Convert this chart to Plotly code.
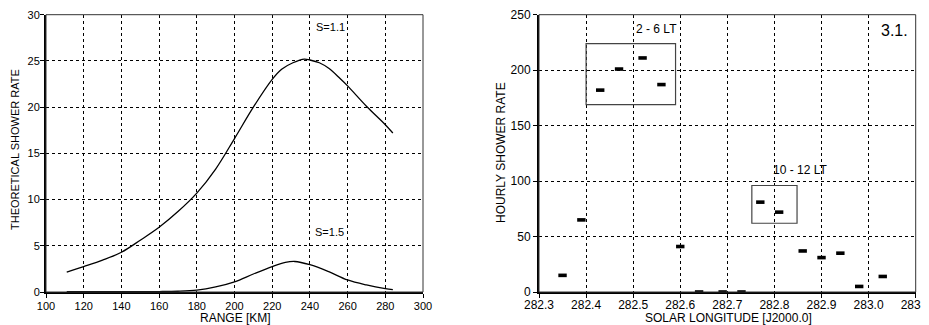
import plotly.graph_objects as go

# ---- Left panel: theoretical shower rate vs range ----
range_km_s11 = [111, 120, 130, 140, 150, 160, 170, 180, 190, 200, 210, 220, 225,
                231, 237, 240, 245, 250, 256, 260, 270, 280, 284]
rate_s11 = [2.15, 2.75, 3.45, 4.3, 5.6, 7.0, 8.7, 10.7, 13.3, 16.6, 20.0, 23.0, 24.1,
            24.8, 25.2, 25.1, 24.8, 24.2, 23.1, 22.3, 20.1, 18.1, 17.2]
range_km_s15 = [111, 120, 130, 140, 150, 160, 170, 180, 190, 200, 210, 220, 227, 232,
                240, 250, 260, 270, 280, 284]
rate_s15 = [0.05, 0.05, 0.05, 0.05, 0.05, 0.05, 0.08, 0.2, 0.55, 1.1, 1.95, 2.75, 3.2, 3.3,
            2.95, 2.2, 1.3, 0.76, 0.36, 0.25]

# ---- Right panel: hourly shower rate vs solar longitude ----
solar_long = [282.35, 282.39, 282.43, 282.47, 282.52, 282.56, 282.60, 282.64, 282.69,
              282.73, 282.77, 282.81, 282.86, 282.90, 282.94, 282.98, 283.03]
hourly_rate = [15, 65, 182, 201, 211, 187, 41, 0, 0, 0, 81, 72, 37, 31, 35, 5, 14]

left_xticks = [100, 120, 140, 160, 180, 200, 220, 240, 260, 280, 300]
left_yticks = [0, 5, 10, 15, 20, 25, 30]
right_xticks = [282.3, 282.4, 282.5, 282.6, 282.7, 282.8, 282.9, 283.0, 283.1]
right_yticks = [0, 50, 100, 150, 200, 250]

FONT = "Liberation Sans, Arial, sans-serif"
# page body has an 8px margin; figure fills the rest of the 929x325 window
OFF = 8
W, H = 929 - OFF, 325 - OFF


def px_x(p):
    return (p - OFF) / W


def px_y(p):
    return (H - (p - OFF)) / H


fig = go.Figure()
fig.add_trace(go.Scatter(x=range_km_s11, y=rate_s11, mode="lines",
                         line=dict(color="black", width=1.3, shape="spline", smoothing=1.0),
                         xaxis="x", yaxis="y", showlegend=False))
fig.add_trace(go.Scatter(x=range_km_s15, y=rate_s15, mode="lines",
                         line=dict(color="black", width=1.3, shape="spline", smoothing=1.0),
                         xaxis="x", yaxis="y", showlegend=False))
fig.add_trace(go.Scatter(x=solar_long, y=hourly_rate, mode="markers",
                         marker=dict(symbol="line-ew", size=6,
                                     line=dict(color="black", width=3.6)),
                         cliponaxis=False, xaxis="x2", yaxis="y2", showlegend=False))


def axis(size, standoff, **kw):
    d = dict(showline=True, linecolor="black", linewidth=2, ticks="outside", ticklen=4,
             tickcolor="black", tickwidth=1, showgrid=True, gridcolor="black",
             griddash="dot", gridwidth=1, zeroline=False, automargin=False,
             ticklabeloverflow="allow", ticklabelstandoff=standoff,
             tickfont=dict(family=FONT, size=size, color="black"))
    d.update(kw)
    return d


ydom = [px_y(292), px_y(14.7)]
fig.update_layout(
    width=W, height=H,
    margin=dict(l=0, r=0, t=0, b=0, pad=0),
    paper_bgcolor="white", plot_bgcolor="white",
    font=dict(family=FONT, color="black"),
    xaxis=axis(11, -1, domain=[px_x(46), px_x(423)], range=[100, 300],
               tickvals=left_xticks, anchor="y"),
    yaxis=axis(11, -2, domain=ydom, range=[0, 30], tickvals=left_yticks, anchor="x"),
    xaxis2=axis(12, -3, domain=[px_x(539), px_x(915.7)], range=[282.3, 283.1],
                tickvals=right_xticks, tickformat=".1f", anchor="y2"),
    yaxis2=axis(12, 0, domain=ydom, range=[0, 250], tickvals=right_yticks, anchor="x2"),
)

# thin frame on top / right
for xr, yr in (("x domain", "y domain"), ("x2 domain", "y2 domain")):
    fig.add_shape(type="rect", xref=xr, yref=yr, x0=0, x1=1, y0=0, y1=1,
                  line=dict(color="#333", width=1), layer="above")

# boxes around local-time groups
box_26 = dict(x0=282.40, x1=282.59, y0=169, y1=224)
box_1012 = dict(x0=282.752, x1=282.848, y0=62, y1=96)
for b in (box_26, box_1012):
    fig.add_shape(type="rect", xref="x2", yref="y2", line=dict(color="#444", width=1.2),
                  **b)

ann = [
    dict(x=250.7, y=28.7, xref="x", yref="y", text="S=1.1", size=11),
    dict(x=250.3, y=6.5, xref="x", yref="y", text="S=1.5", size=11),
    dict(x=282.55, y=237, xref="x2", yref="y2", text="2 - 6 LT", size=12),
    dict(x=282.855, y=110, xref="x2", yref="y2", text="10 - 12 LT", size=12),
    dict(x=283.056, y=236, xref="x2", yref="y2", text="3.1.", size=16),
]
for a in ann:
    fig.add_annotation(x=a["x"], y=a["y"], xref=a["xref"], yref=a["yref"], text=a["text"],
                       showarrow=False, font=dict(family=FONT, size=a["size"], color="black"))

# axis titles
titles = [
    dict(x=px_x(15), y=px_y(150), text="THEORETICAL SHOWER RATE", angle=-90, size=11),
    dict(x=px_x(501), y=px_y(153), text="HOURLY SHOWER RATE", angle=-90, size=12),
    dict(x=px_x(235), y=px_y(318), text="RANGE [KM]", angle=0, size=12),
    dict(x=px_x(728), y=px_y(318), text="SOLAR LONGITUDE [J2000.0]", angle=0, size=12),
]
for t in titles:
    fig.add_annotation(x=t["x"], y=t["y"], xref="paper", yref="paper", text=t["text"],
                       textangle=t["angle"], showarrow=False, xanchor="center",
                       yanchor="middle", font=dict(family=FONT, size=t["size"], color="black"))

fig.write_html("out.html")
